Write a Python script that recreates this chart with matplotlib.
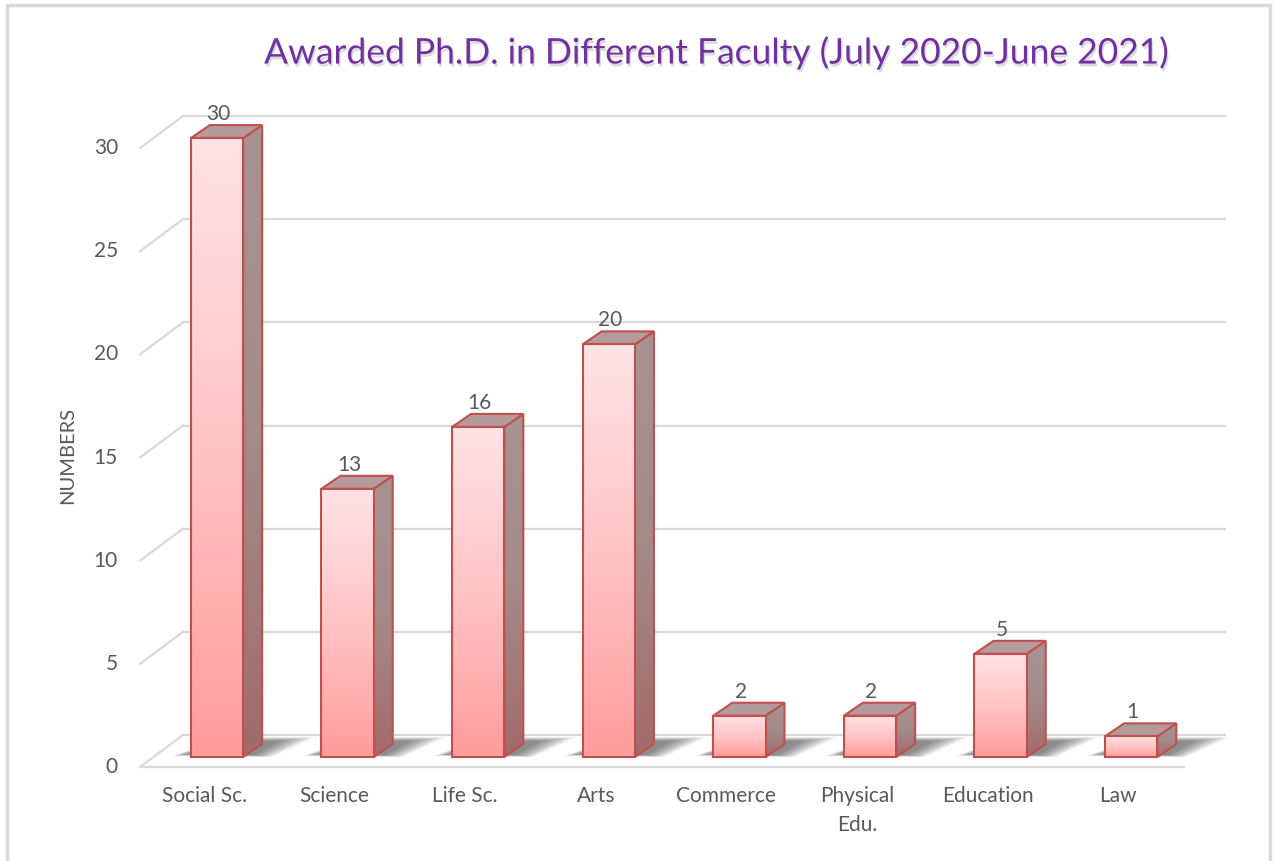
# awarded phd chart - excel style 3d columns
import numpy as np
import matplotlib.pyplot as plt
import matplotlib.patheffects as pe
from matplotlib.patches import Rectangle, Polygon
from matplotlib.colors import LinearSegmentedColormap

# data
faculties = ["Social Sc.", "Science", "Life Sc.", "Arts", "Commerce",
             "Physical\nEdu.", "Education", "Law"]
awarded = [30, 13, 16, 20, 2, 2, 5, 1]
yticks = [0, 5, 10, 15, 20, 25, 30]

plt.rcParams['font.family'] = ['Lato', 'DejaVu Sans']

W, H = 1276, 861
fig = plt.figure(figsize=(W / 100, H / 100), dpi=100)
ax = fig.add_axes([138.64 / W, 71 / H, 1110.1 / W, 697.3 / H])
xlim = (-0.6, 7.9)
ylim = (-1.6, 32.2)
ppx = 1110.1 / (xlim[1] - xlim[0])   # pixels per x unit
ppy = 697.3 / (ylim[1] - ylim[0])    # pixels per y unit

def px(dx, dy):
    return dx / ppx, dy / ppy

# 3d offsets (pixels -> data)
fdx, fdy = px(-13, -10)    # front plane
bdx, bdy = px(30, 22)      # back wall
ddx, ddy = px(19, 13)      # bar depth
grid_col = "#d9d9d9"
txt_col = "#595959"

front_left = (140 - 217) / ppx
front_right = (1184 - 217) / ppx
back_left = front_left + (bdx - fdx)
back_right = (1225 - 217) / ppx

# grid: back wall + left side wall
for v in yticks:
    ax.plot([back_left, back_right], [v + bdy, v + bdy], color=grid_col, lw=1.6, zorder=1)
    ax.plot([front_left, back_left], [v + fdy, v + bdy], color=grid_col, lw=1.6, zorder=1)
    ax.text((118 - 217) / ppx, v + fdy, str(v), ha="right", va="center",
            fontsize=15, color=txt_col)
# floor front edge
ax.plot([front_left, front_right], [fdy, fdy], color=grid_col, lw=1.6, zorder=1)

face_cmap = LinearSegmentedColormap.from_list("face", ["#ff9c9c", "#ffc4c6", "#ffe3e5"])
side_cmap = LinearSegmentedColormap.from_list("side", ["#a26a6a", "#a58a8a", "#a89393"])
edge = "#c0504d"
w = 0.40
grad = np.linspace(0, 1, 256).reshape(-1, 1)

for i, v in enumerate(awarded):
    xl, xr = i - w / 2, i + w / 2
    # soft shadow on the floor (stacked translucent layers)
    n = 12
    for k in range(n):
        s = k / n
        sh = Polygon([(xl - 0.14 + 0.12 * s, 0.05 + 0.1 * s), (xr + 0.22 - 0.15 * s, 0.0 + 0.1 * s),
                      (xr + 0.55 - 0.3 * s, bdy * 0.9 - 0.2 * s), (xl + 0.25 + 0.1 * s, bdy * 0.9 - 0.2 * s)],
                     closed=True, facecolor="#2a2a2a", edgecolor="none", alpha=0.06, zorder=2)
        ax.add_patch(sh)
    # side face
    side = Polygon([(xr, 0), (xr + ddx, ddy), (xr + ddx, v + ddy), (xr, v)],
                   closed=True, facecolor="none", edgecolor=edge, lw=1.5, zorder=4)
    ax.add_patch(side)
    im = ax.imshow(grad, cmap=side_cmap, origin="lower", aspect="auto",
                   extent=[xr, xr + ddx, 0, v + ddy], zorder=3)
    im.set_clip_path(side)
    # top face
    top = Polygon([(xl, v), (xr, v), (xr + ddx, v + ddy), (xl + ddx, v + ddy)],
                  closed=True, facecolor="#b59a9c", edgecolor=edge, lw=1.5, zorder=4)
    ax.add_patch(top)
    # front face
    front = Rectangle((xl, 0), w, v, facecolor="none", edgecolor=edge, lw=1.5, zorder=6)
    ax.add_patch(front)
    im = ax.imshow(grad, cmap=face_cmap, origin="lower", aspect="auto",
                   extent=[xl, xr, 0, v], zorder=5)
    im.set_clip_path(front)
    # value label
    ax.text(i + 0.01, v + ddy + 0.25, str(v), ha="center", va="baseline",
            fontsize=15, color=txt_col, zorder=7)
    # category label
    ax.text(i + fdx, (757 - 786) / ppy, faculties[i], ha="center", va="top",
            fontsize=15, color=txt_col, linespacing=1.55)

ax.set_xlim(*xlim)
ax.set_ylim(*ylim)
ax.axis("off")

# titles
fig.text(716 / W, (861 - 53) / H, "Awarded Ph.D. in Different Faculty (July 2020-June 2021)",
         ha="center", va="center", fontsize=25.5, color="#7030a0",
         path_effects=[pe.withSimplePatchShadow(offset=(1, -2), shadow_rgbFace="#999999", alpha=0.35)])
fig.text(68 / W, (861 - 455) / H, "NUMBERS", rotation=90, ha="center", va="center",
         fontsize=14.5, color=txt_col)

# chart border
fig.add_artist(Rectangle((7 / W, -0.01), (1270 - 7) / W, (861 - 5) / H + 0.01,
                         transform=fig.transFigure, facecolor="none",
                         edgecolor=grid_col, lw=2.5))

plt.savefig("out.png", dpi=100)
